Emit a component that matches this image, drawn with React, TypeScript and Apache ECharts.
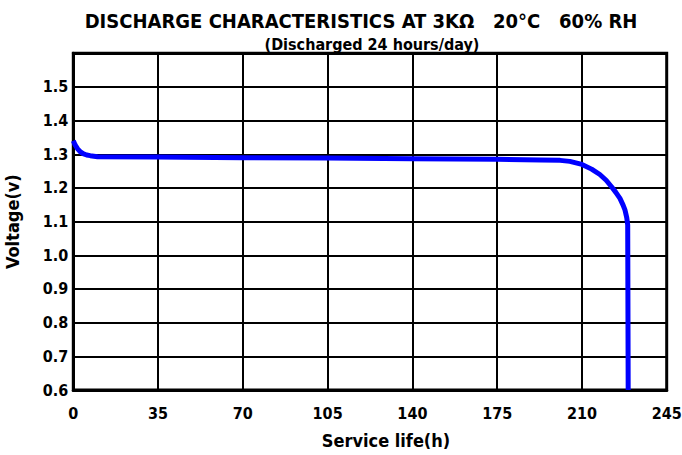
import React, { useEffect, useRef } from "react";
import * as echarts from "echarts";

const titleText = "DISCHARGE CHARACTERISTICS AT 3KΩ   20°C   60% RH";
const subtitleText = "(Discharged 24 hours/day)";
const xAxisName = "Service life(h)";
const yAxisName = "Voltage(v)";

const hours = [0, 0.8, 1.8, 2.8, 4, 5.5, 7, 10, 35, 70, 105, 140, 175, 193, 201, 205, 210, 214, 217.4, 220, 222.3, 224, 225.7, 227, 227.8, 228.5, 228.9, 229.1];
const volts = [1.34, 1.327, 1.316, 1.308, 1.302, 1.298, 1.296, 1.293, 1.292, 1.29, 1.289, 1.287, 1.285, 1.283, 1.282, 1.279, 1.27, 1.256, 1.24, 1.223, 1.203, 1.187, 1.169, 1.149, 1.134, 1.112, 1.09, 0.6];

const FONT = "'DejaVu Sans Condensed', 'Liberation Sans Narrow', 'Arial Narrow', 'Liberation Sans', Arial, sans-serif";

export default function App() {
  const ref = useRef<HTMLDivElement>(null);
  useEffect(() => {
    if (!ref.current) return;
    const chart = echarts.init(ref.current, undefined, { renderer: "svg" });
    const data = hours.map((h, i) => [h, volts[i]]);
    chart.setOption({
      animation: false,
      backgroundColor: "#ffffff",
      title: [
        {
          text: titleText,
          left: 356,
          top: 6,
          textAlign: "center",
          textStyle: { fontFamily: FONT, fontSize: 20, fontWeight: "bold", color: "#000" },
        },
        {
          text: subtitleText,
          left: 367,
          top: 31,
          textAlign: "center",
          textStyle: { fontFamily: FONT, fontSize: 16, fontWeight: "bold", color: "#000" },
        },
      ],
      graphic: [
        {
          type: "text",
          x: 386,
          y: 440,
          style: {
            text: xAxisName,
            align: "center",
            verticalAlign: "middle",
            fontFamily: FONT,
            fontSize: 18,
            fontWeight: "bold",
            fill: "#000",
          },
        },
      ],
      grid: {
        left: 73.3,
        right: 15.3,
        top: 53.3,
        bottom: 65,
        show: true,
        borderColor: "#000",
        borderWidth: 3,
        backgroundColor: "transparent",
        outerBoundsMode: "none",
        containLabel: false,
      },
      xAxis: {
        type: "value",
        min: 0,
        max: 245,
        interval: 35,
        axisLine: { show: true, lineStyle: { color: "#000", width: 3 } },
        axisTick: { show: false },
        axisLabel: { fontFamily: FONT, fontSize: 16, fontWeight: "bold", color: "#000", margin: 15 },
        splitLine: { show: true, lineStyle: { color: "#000", width: 2 } },
      },
      yAxis: {
        type: "value",
        min: 0.6,
        max: 1.6,
        interval: 0.1,
        name: yAxisName,
        nameLocation: "middle",
        nameGap: 52,
        nameRotate: 90,
        nameTextStyle: { fontFamily: FONT, fontSize: 18, fontWeight: "bold", color: "#000" },
        axisLine: { show: true, lineStyle: { color: "#000", width: 3 } },
        axisTick: { show: false },
        axisLabel: {
          fontFamily: FONT,
          fontSize: 16,
          fontWeight: "bold",
          color: "#000",
          margin: 5,
          showMaxLabel: false,
          formatter: (v: number) => v.toFixed(1),
        },
        splitLine: { show: true, lineStyle: { color: "#000", width: 2 } },
      },
      series: [
        {
          type: "line",
          data,
          showSymbol: false,
          smooth: false,
          clip: false,
          lineStyle: { color: "#0000ff", width: 5, cap: "butt", join: "round" },
        },
      ],
    });
    return () => chart.dispose();
  }, []);
  return <div ref={ref} style={{ position: "fixed", left: 0, top: 0, width: 682, height: 455 }} />;
}
